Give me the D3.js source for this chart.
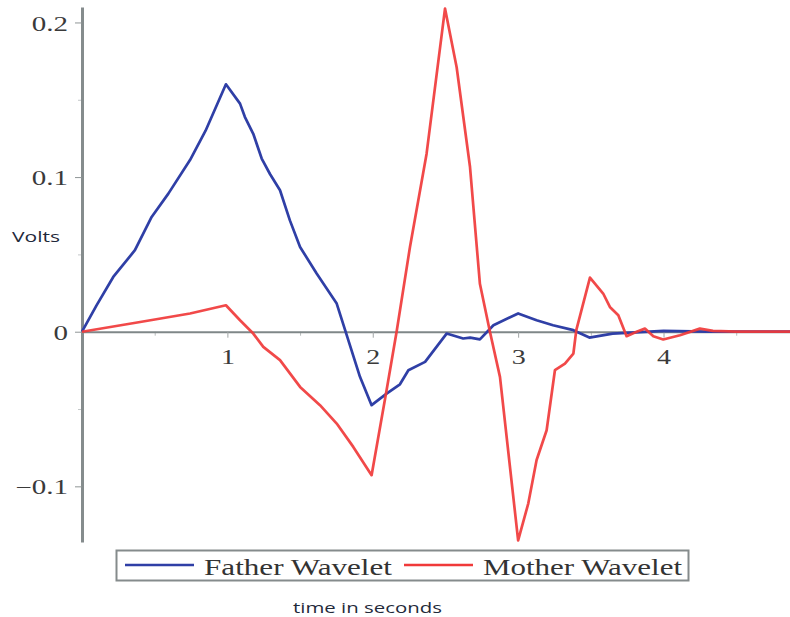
<!DOCTYPE html>
<html>
<head>
<meta charset="utf-8">
<script src="https://cdn.jsdelivr.net/npm/d3@7"></script>
<style>
  html, body { margin: 0; padding: 0; background: #fff; }
  svg { display: block; }
</style>
</head>
<body>
<svg id="chart" width="790" height="617"></svg>
<script>
// Father wavelet samples (time in seconds, volts)
const fatherT = [0, 0.1, 0.215, 0.364, 0.479, 0.594, 0.743, 0.85, 0.99, 1.087, 1.12, 1.178, 1.236, 1.293, 1.362, 1.43, 1.5, 1.614, 1.752, 1.81, 1.912, 1.992, 2.095, 2.187, 2.245, 2.36, 2.508, 2.622, 2.67, 2.737, 2.83, 3.0, 3.127, 3.24, 3.38, 3.49, 3.65, 4.0, 4.3, 4.87];
const fatherV = [0, 0.017, 0.0354, 0.0527, 0.0742, 0.0893, 0.111, 0.13, 0.16, 0.1475, 0.139, 0.128, 0.112, 0.102, 0.0915, 0.072, 0.0548, 0.0376, 0.0182, 0.001, -0.0292, -0.0475, -0.040, -0.034, -0.0249, -0.0195, -0.0012, -0.0044, -0.0038, -0.005, 0.0042, 0.0118, 0.0074, 0.0042, 0.001, -0.0038, -0.0012, 0.0005, 0, 0];

// Mother wavelet samples (time in seconds, volts)
const motherT = [0, 0.4, 0.743, 0.99, 1.087, 1.178, 1.247, 1.362, 1.5, 1.637, 1.752, 1.866, 1.992, 2.095, 2.164, 2.256, 2.37, 2.497, 2.577, 2.669, 2.737, 2.806, 2.875, 3.0, 3.07, 3.127, 3.196, 3.253, 3.322, 3.38, 3.4, 3.494, 3.585, 3.631, 3.689, 3.746, 3.815, 3.872, 3.93, 3.998, 4.113, 4.25, 4.34, 4.5, 4.87];
const motherV = [0, 0.0063, 0.0118, 0.0171, 0.0074, -0.0012, -0.0098, -0.0184, -0.0357, -0.0475, -0.0594, -0.0745, -0.0928, -0.0378, 0, 0.0548, 0.115, 0.209, 0.171, 0.1065, 0.031, 0, -0.0292, -0.135, -0.111, -0.083, -0.0637, -0.0249, -0.0206, -0.0141, 0.001, 0.035, 0.0247, 0.016, 0.0107, -0.0029, 0, 0.002, -0.0029, -0.005, -0.0023, 0.002, 0.0005, 0, 0];

// Axis ticks
const yMajor = [-0.1, 0, 0.1, 0.2];
const yMinor = [-0.05, 0.05, 0.15];
const xMajor = [1, 2, 3, 4];
const xMinor = [0.5, 1.5, 2.5, 3.5, 4.5];

const seriesNames = ["Father Wavelet", "Mother Wavelet"];
const seriesColors = ["#2f3fa6", "#f03a3a"];

const svg = d3.select("#chart");

const x = d3.scaleLinear().domain([0, 4.87]).range([82, 790]);
const y = d3.scaleLinear().domain([-0.136, 0.21]).range([542, 7]);

// stretch text horizontally, the way the plot's labels are set wide
function widen(sel, k) {
  sel.each(function () {
    const w = this.getComputedTextLength();
    d3.select(this).attr("textLength", w * k).attr("lengthAdjust", "spacingAndGlyphs");
  });
}

// x axis: minor ticks, then major ticks with labels
const gxMinor = svg.append("g").attr("transform", `translate(0,${y(0)})`)
  .call(d3.axisBottom(x).tickValues(xMinor).tickSize(4).tickSizeOuter(0).tickFormat(""));
gxMinor.select(".domain").remove();
gxMinor.selectAll(".tick line").attr("stroke", "#b8bcbd").attr("stroke-width", 1);

const gx = svg.append("g").attr("transform", `translate(0,${y(0)})`)
  .call(d3.axisBottom(x).tickValues(xMajor).tickSize(6).tickSizeOuter(0).tickPadding(12).tickFormat(d3.format("d")));
gx.select(".domain").attr("stroke", "#7f8788").attr("stroke-width", 2);
gx.selectAll(".tick line").attr("stroke", "#a0a5a6").attr("stroke-width", 1);
gx.selectAll(".tick text")
  .attr("font-family", "'Liberation Serif', 'Times New Roman', serif")
  .attr("font-size", 20).attr("fill", "#3a3a3a");
widen(gx.selectAll(".tick text"), 1.4);

// y axis
const gyMinor = svg.append("g").attr("transform", `translate(${x(0)},0)`)
  .call(d3.axisLeft(y).tickValues(yMinor).tickSize(4).tickSizeOuter(0).tickFormat(""));
gyMinor.select(".domain").remove();
gyMinor.selectAll(".tick line").attr("stroke", "#c4c8c9").attr("stroke-width", 1);

const gy = svg.append("g").attr("transform", `translate(${x(0)},0)`)
  .call(d3.axisLeft(y).tickValues(yMajor).tickSize(7).tickSizeOuter(0).tickPadding(7)
    .tickFormat(v => v === 0 ? "0" : d3.format(".1f")(v)));
gy.select(".domain").attr("stroke", "#858c8d").attr("stroke-width", 3);
gy.selectAll(".tick line").attr("stroke", "#8f9596").attr("stroke-width", 1);
gy.selectAll(".tick text")
  .attr("font-family", "'Liberation Serif', 'Times New Roman', serif")
  .attr("font-size", 20).attr("fill", "#3a3a3a").attr("dy", "0.38em");
widen(gy.selectAll(".tick text"), 1.45);

// wavelet curves
const line = d3.line().x(d => x(d[0])).y(d => y(d[1]));
const father = fatherT.map((t, i) => [t, fatherV[i]]);
const mother = motherT.map((t, i) => [t, motherV[i]]);

svg.append("path").datum(father)
  .attr("fill", "none").attr("stroke", seriesColors[0]).attr("stroke-width", 2.7)
  .attr("stroke-linejoin", "round").attr("d", line);
svg.append("path").datum(mother)
  .attr("fill", "none").attr("stroke", seriesColors[1]).attr("stroke-width", 2.7)
  .attr("stroke-opacity", 0.92)
  .attr("stroke-linejoin", "round").attr("d", line);

// axis titles
const volts = svg.append("text").attr("x", 12).attr("y", 242)
  .attr("font-family", "'Open Sans', 'DejaVu Sans', sans-serif").attr("font-size", 14)
  .attr("fill", "#1f2a3a").text("Volts");
volts.attr("textLength", 48).attr("lengthAdjust", "spacingAndGlyphs");

const xTitle = svg.append("text").attr("x", 293).attr("y", 613)
  .attr("font-family", "'Open Sans', 'DejaVu Sans', sans-serif").attr("font-size", 14)
  .attr("fill", "#1f2a3a").text("time in seconds");
xTitle.attr("textLength", 149).attr("lengthAdjust", "spacingAndGlyphs");

// legend
const legend = svg.append("g");
legend.append("rect").attr("x", 116.5).attr("y", 550.5).attr("width", 572).attr("height", 30)
  .attr("fill", "#fff").attr("stroke", "#858b8c").attr("stroke-width", 2);

const legendItems = [
  { x1: 125, x2: 194, tx: 204, tw: 188 },
  { x1: 404, x2: 473, tx: 483, tw: 199 }
];
legendItems.forEach((it, i) => {
  legend.append("line").attr("x1", it.x1).attr("x2", it.x2).attr("y1", 565).attr("y2", 565)
    .attr("stroke", seriesColors[i]).attr("stroke-width", 2.7);
  legend.append("text").attr("x", it.tx).attr("y", 575)
    .attr("font-family", "'Liberation Serif', 'Times New Roman', serif").attr("font-size", 24)
    .attr("fill", "#333").attr("textLength", it.tw).attr("lengthAdjust", "spacingAndGlyphs")
    .text(seriesNames[i]);
});
</script>
</body>
</html>
